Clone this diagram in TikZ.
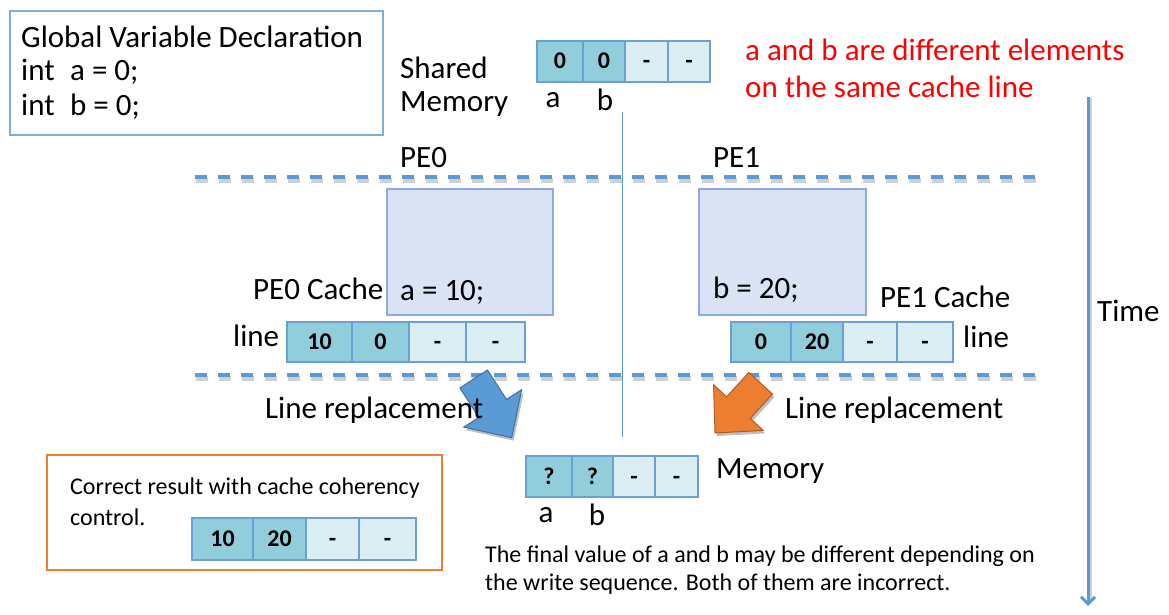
\documentclass[tikz,border=0pt]{standalone}
\usepackage{fontspec}
\setmainfont{Carlito}
\usetikzlibrary{arrows.meta}
\definecolor{cellDark}{HTML}{92CDDC}
\definecolor{cellLight}{HTML}{DAEEF3}
\definecolor{cellEdge}{HTML}{6A9FD8}
\definecolor{peFill}{HTML}{DAE3F3}
\definecolor{peEdge}{HTML}{8FAADC}
\definecolor{accBlue}{HTML}{5B9BD5}
\definecolor{accBlueDk}{HTML}{41719C}
\definecolor{accOrange}{HTML}{ED7D31}
\definecolor{accOrangeDk}{HTML}{AE5A21}
\begin{document}
\begin{tikzpicture}[x=1pt,y=-1pt,
  big/.style={font=\fontsize{31}{37}\selectfont, inner sep=0pt},
  mid/.style={font=\fontsize{31}{37}\selectfont, inner sep=0pt},
  small/.style={font=\fontsize{24}{29}\selectfont, inner sep=0pt},
  cellbase/.style={draw=cellEdge, line width=1.8pt, inner sep=0pt,
    font=\fontsize{24}{27}\selectfont\bfseries, text height=15pt, text depth=0pt},
  dcell/.style={cellbase, fill=cellDark},
  lcell/.style={cellbase, fill=cellLight},
  sepline/.style={accBlue, line width=4pt, dash pattern=on 12pt off 11pt},
  sepshadow/.style={black!60, opacity=0.3, line width=5pt, dash pattern=on 12pt off 11pt},
  pebox/.style={draw=peEdge, fill=peFill, line width=1.5pt},
]
% canvas
\fill[white] (0,0) rectangle (1169,615);
\useasboundingbox (0,0) rectangle (1169,615);

% global declarations
\draw[accBlue!80, line width=1.5pt] (10,11) rectangle (383,135);
\node[big, anchor=west] (gtitle) at (21,37) {Global Variable Declaration};
\node[big, anchor=west] (ga) at (21,72) {int\enspace a = 0;};
\node[big, anchor=west] (gb) at (21,107) {int\enspace b = 0;};

% shared memory line
\node[big, anchor=west] (shared) at (400,68) {Shared};
\node[big, anchor=west] (sharedmem) at (400,104) {Memory};
\node[dcell, minimum width=46pt, minimum height=41pt] (s0) at (560,61.5) {0};
\node[dcell, minimum width=42pt, minimum height=41pt] (s1) at (604,61.5) {0};
\node[lcell, minimum width=43pt, minimum height=41pt] (s2) at (646.5,61.5) {-};
\node[lcell, minimum width=42pt, minimum height=41pt] (s3) at (689,61.5) {-};
\node[big] (sa) at (553,100) {a};
\node[big] (sb) at (605,100) {b};

\node[big, anchor=west, text=red] (note1) at (745,50) {a and b are different elements};
\node[big, anchor=west, text=red] (note2) at (745,87) {on the same cache line};

% divider between the two PEs
\coordinate (divtop) at (622,112);
\coordinate (divbot) at (622,437);
\draw[accBlue, line width=1pt] (divtop) -- (divbot);

\node[mid, anchor=west] (pe0) at (400,158) {PE0};
\node[mid, anchor=west] (pe1) at (713,158) {PE1};

% separators
\coordinate (sepAl) at (195,177);
\coordinate (sepAr) at (1035,177);
\coordinate (sepBl) at (195,375);
\coordinate (sepBr) at (1035,375);
\draw[sepshadow] ([shift={(1,3)}]sepAl) -- ([shift={(1,3)}]sepAr);
\draw[sepshadow] ([shift={(1,3)}]sepBl) -- ([shift={(1,3)}]sepBr);
\draw[sepline] (sepAl) -- (sepAr);
\draw[sepline] (sepBl) -- (sepBr);

% processing elements
\draw[pebox] (387,189) rectangle (553,315);
\draw[pebox] (699,189) rectangle (866,315);
\node[big, anchor=west] (wa) at (400,292) {a = 10;};
\node[big, anchor=west] (wb) at (713,290) {b = 20;};
\node[mid, anchor=west] (c0) at (253,289) {PE0 Cache};
\node[mid, anchor=west] (c1) at (880,297) {PE1 Cache};

% PE0 cache line
\node[big, anchor=west] (l0lab) at (233,336) {line};
\node[dcell, minimum width=65pt, minimum height=40pt] (p0) at (319.5,342) {10};
\node[dcell, minimum width=57pt, minimum height=40pt] (p1) at (380.5,342) {0};
\node[lcell, minimum width=57pt, minimum height=40pt] (p2) at (437.5,342) {-};
\node[lcell, minimum width=59pt, minimum height=40pt] (p3) at (495.5,342) {-};

% PE1 cache line
\node[big, anchor=west] (l1lab) at (963,337) {line};
\node[dcell, minimum width=60pt, minimum height=40pt] (q0) at (761,342) {0};
\node[dcell, minimum width=52pt, minimum height=40pt] (q1) at (817,342) {20};
\node[lcell, minimum width=54pt, minimum height=40pt] (q2) at (870,342) {-};
\node[lcell, minimum width=56pt, minimum height=40pt] (q3) at (925,342) {-};

% time axis
\node[big, anchor=west] (time) at (1097,311) {Time};
\coordinate (ttop) at (1088,97);
\coordinate (tbot) at (1088,606);
\draw[black!60, opacity=0.3, line width=4pt] ([shift={(1.5,1.5)}]ttop) -- ([shift={(1.5,-6)}]tbot);
\draw[accBlue, line width=3pt, -{Straight Barb[length=7pt,width=14pt]}] (ttop) -- (tbot);

% write-back arrows
\fill[black, opacity=0.25] ([shift={(2,3)}]487.5,370) -- ([shift={(2,3)}]459.9,388) -- ([shift={(2,3)}]478.9,417.4)
  -- ([shift={(2,3)}]463.8,427.1) -- ([shift={(2,3)}]511.7,437.7) -- ([shift={(2,3)}]521.6,389.7)
  -- ([shift={(2,3)}]506.5,399.4) -- cycle;
\filldraw[fill=accBlue, draw=accBlueDk, line width=1pt, line join=miter]
  (487.5,370) -- (459.9,388) -- (478.9,417.4) -- (463.8,427.1) -- (511.7,437.7)
  -- (521.6,389.7) -- (506.5,399.4) -- cycle;
\fill[black, opacity=0.25] ([shift={(2,3)}]748.9,372.5) -- ([shift={(2,3)}]726.6,396.8) -- ([shift={(2,3)}]713.6,384.8)
  -- ([shift={(2,3)}]715,433) -- ([shift={(2,3)}]763.2,430.4) -- ([shift={(2,3)}]750.2,418.4)
  -- ([shift={(2,3)}]772.5,394.1) -- cycle;
\filldraw[fill=accOrange, draw=accOrangeDk, line width=1pt, line join=miter]
  (748.9,372.5) -- (726.6,396.8) -- (713.6,384.8) -- (715,433) -- (763.2,430.4)
  -- (750.2,418.4) -- (772.5,394.1) -- cycle;
\node[big, anchor=west] (lr0) at (265,410) {Line replacement};
\node[big, anchor=west] (lr1) at (785,410) {Line replacement};

% main memory after write-back
\node[dcell, minimum width=46pt, minimum height=41pt] (m0) at (549,476.5) {?};
\node[dcell, minimum width=41pt, minimum height=41pt] (m1) at (592.5,476.5) {?};
\node[lcell, minimum width=42pt, minimum height=41pt] (m2) at (634,476.5) {-};
\node[lcell, minimum width=43pt, minimum height=41pt] (m3) at (676.5,476.5) {-};
\node[big, anchor=west] (memlab) at (716,471) {Memory};
\node[big] (ma) at (546,515) {a};
\node[big] (mb) at (597,515) {b};

% coherent result
\draw[accOrange, line width=1.8pt] (47,455) rectangle (442,570);
\node[small, anchor=west] (ok1) at (70,488) {Correct result with cache coherency};
\node[small, anchor=west] (ok2) at (70,517) {control.};
\node[dcell, minimum width=61pt, minimum height=42pt] (r0) at (222.5,539) {10};
\node[dcell, minimum width=53pt, minimum height=42pt] (r1) at (279.5,539) {20};
\node[lcell, minimum width=53pt, minimum height=42pt] (r2) at (332.5,539) {-};
\node[lcell, minimum width=57pt, minimum height=42pt] (r3) at (387.5,539) {-};

% closing remark
\node[small, anchor=west] (fin1) at (485,556) {The final value of a and b may be different depending on};
\node[small, anchor=west] (fin2) at (485,584) {the write sequence. Both of them are incorrect.};
\end{tikzpicture}
\end{document}
